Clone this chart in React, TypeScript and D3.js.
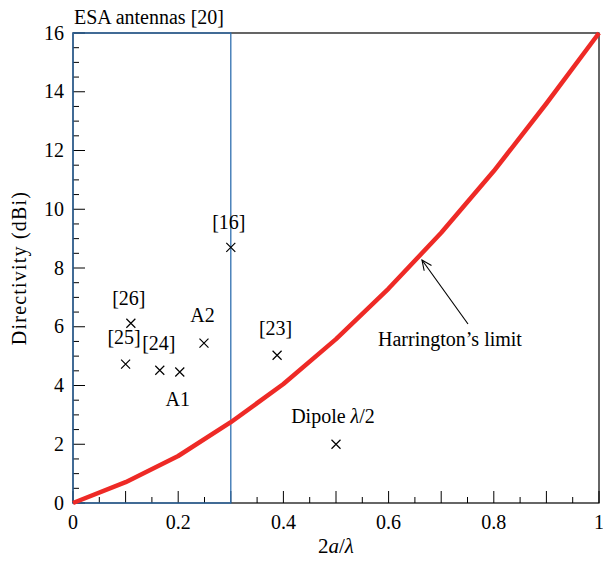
import React from "react";
import * as d3 from "d3";

const limitX = [0, 0.1, 0.2, 0.3, 0.4, 0.5, 0.6, 0.7, 0.8, 0.9, 1.0];
const limitY = [0, 0.71, 1.6, 2.75, 4.05, 5.58, 7.3, 9.2, 11.3, 13.6, 16];

const pointNames = ["[16]", "[26]", "[25]", "[24]", "A1", "A2", "[23]", "Dipole λ/2"];
const pointX = [0.3, 0.11, 0.1, 0.165, 0.203, 0.249, 0.388, 0.5];
const pointY = [8.7, 6.12, 4.73, 4.52, 4.46, 5.44, 5.03, 2.0];

const xTicks = [0, 0.2, 0.4, 0.6, 0.8, 1];
const yTicks = [0, 2, 4, 6, 8, 10, 12, 14, 16];

const W = 603, H = 566;
const L = 73, R = 599, T = 33, B = 503;
const FONT = "'Liberation Serif', 'DejaVu Serif', serif";
const FS = 20;

export default function App() {
  const x = d3.scaleLinear().domain([0, 1]).range([L, R]);
  const y = d3.scaleLinear().domain([0, 16]).range([B, T]);
  const line = d3.line<number>().x((_, i) => x(limitX[i])).y((d) => y(d));
  const xMinor = d3.range(0, 1.0001, 0.05);
  const yMinor = d3.range(0, 16.001, 0.5);

  // label offsets (dx, dy in pixels) relative to the marker
  const labelOff: [number, number][] = [
    [-2, -18], [-2, -18], [-1.5, -20], [-1, -20], [-2, 34], [-1.5, -21], [-1.5, -20], [-3, -21],
  ];

  return (
    <svg width={W} height={H} style={{ position: "absolute", left: 0, top: 0, background: "#fff" }}>
      <defs>
        <marker id="arr" viewBox="0 0 12 12" refX="11" refY="6" markerWidth="12" markerHeight="12" orient="auto" markerUnits="userSpaceOnUse">
          <path d="M1,1.5 L11,6 L1,10.5" fill="none" stroke="#000" strokeWidth={1.1} />
        </marker>
      </defs>
      {/* frame */}
      <rect x={L} y={T} width={R - L} height={B - T} fill="none" stroke="#000" strokeWidth={1.2} />
      {/* minor ticks */}
      {xMinor.map((v, i) => (
        <line key={"xm" + i} x1={x(v)} x2={x(v)} y1={B} y2={B - (i % 2 === 0 ? 12 : 6)} stroke="#000" strokeWidth={1} />
      ))}
      {yMinor.map((v, i) => (
        <line key={"ym" + i} x1={L} x2={L + (i % 4 === 0 ? 12 : 6)} y1={y(v)} y2={y(v)} stroke="#000" strokeWidth={1} />
      ))}
      {/* ESA box */}
      <rect x={x(0)} y={y(16)} width={x(0.3) - x(0)} height={y(0) - y(16)} fill="none" stroke="#2f6fb0" strokeWidth={1.3} />
      {/* tick labels */}
      {xTicks.map((v) => (
        <text key={"xt" + v} x={x(v)} y={B + 26} textAnchor="middle" fontFamily={FONT} fontSize={FS} fill="#000">
          {v === 0 || v === 1 ? String(v) : v.toFixed(1)}
        </text>
      ))}
      {yTicks.map((v) => (
        <text key={"yt" + v} x={L - 9} y={y(v) + 6.5} textAnchor="end" fontFamily={FONT} fontSize={FS} fill="#000">
          {v}
        </text>
      ))}
      {/* Harrington's limit */}
      <path d={line(limitY) || ""} fill="none" stroke="#ee2a26" strokeWidth={4.5} strokeLinejoin="round" />
      {/* points */}
      {pointX.map((px, i) => {
        const cx = x(px), cy = y(pointY[i]);
        const s = 4.5;
        return (
          <g key={"p" + i}>
            <path d={`M${cx - s},${cy - s}L${cx + s},${cy + s}M${cx - s},${cy + s}L${cx + s},${cy - s}`} stroke="#000" strokeWidth={1.2} />
            <text x={cx + labelOff[i][0]} y={cy + labelOff[i][1]} textAnchor="middle" fontFamily={FONT} fontSize={FS} fill="#000">
              {pointNames[i] === "Dipole λ/2" ? (
                <>Dipole <tspan fontStyle="italic">λ</tspan>/2</>
              ) : pointNames[i]}
            </text>
          </g>
        );
      })}
      {/* annotation */}
      <line x1={468} y1={324} x2={422} y2={260} stroke="#000" strokeWidth={1.1} markerEnd="url(#arr)" />
      <text x={450} y={346} textAnchor="middle" fontFamily={FONT} fontSize={FS} fill="#000">Harrington’s limit</text>
      <text x={L + 1} y={24} fontFamily={FONT} fontSize={FS} fill="#000">ESA antennas [20]</text>
      {/* axis titles */}
      <text x={336} y={553} textAnchor="middle" fontFamily={FONT} fontSize={21} fill="#000">
        2<tspan fontStyle="italic">a</tspan>/<tspan fontStyle="italic">λ</tspan>
      </text>
      <text transform={`translate(26,${(T + B) / 2}) rotate(-90)`} textAnchor="middle" fontFamily={FONT} fontSize={FS} fill="#000" letterSpacing={1.2}>
        Directivity (dBi)
      </text>
    </svg>
  );
}
